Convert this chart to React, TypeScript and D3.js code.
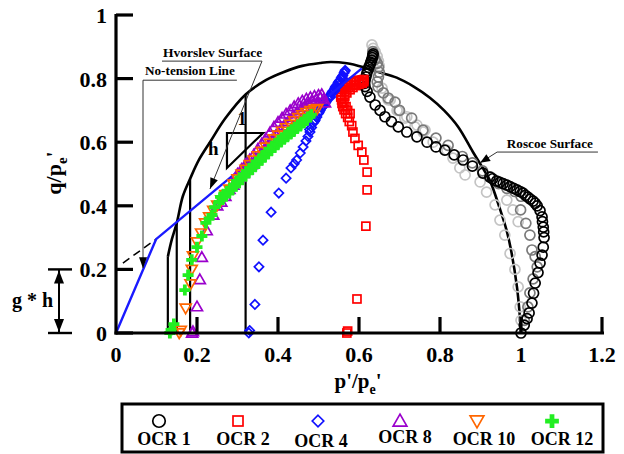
import React from "react";
import * as d3 from "d3";

type Pt = [number, number];

const xTicks = [0, 0.2, 0.4, 0.6, 0.8, 1, 1.2];
const xTickLabels = ["0", "0.2", "0.4", "0.6", "0.8", "1", "1.2"];
const yTicks = [0, 0.2, 0.4, 0.6, 0.8, 1];
const yTickLabels = ["0", "0.2", "0.4", "0.6", "0.8", "1"];

// state boundary surface (black curve)
const surface: Pt[] = [
  [0.128, 0.24], [0.138, 0.295], [0.15, 0.346], [0.165, 0.43], [0.183, 0.485],
  [0.205, 0.545], [0.232, 0.6], [0.27, 0.675], [0.32, 0.75], [0.37, 0.795],
  [0.413, 0.82], [0.46, 0.84], [0.504, 0.849], [0.53, 0.852], [0.57, 0.848],
  [0.61, 0.836], [0.65, 0.82], [0.693, 0.803], [0.735, 0.775], [0.775, 0.74],
  [0.81, 0.7], [0.845, 0.648], [0.881, 0.57], [0.905, 0.52], [0.923, 0.48],
  [0.948, 0.39], [0.965, 0.32], [0.977, 0.25], [0.99, 0.145], [0.996, 0.07], [1.0, 0],
];
const wallP = [0.128, 0.15, 0.183, 0.32];
const wallQ = [0.24, 0.346, 0.485, 0.75];

const hvorslevLine: Pt[] = [[0, 0], [0.099, 0.295], [0.607, 0.832]];
const dashedLine: Pt[] = [[0.017, 0.22], [0.099, 0.295]];

const ocr1: Pt[] = [
  [1.0, 0.0], [1.008, 0.025], [1.015, 0.045], [1.02, 0.063], [1.027, 0.094], [1.031, 0.125],
  [1.035, 0.157], [1.042, 0.19], [1.047, 0.22], [1.052, 0.245], [1.055, 0.27], [1.057, 0.3],
  [1.056, 0.318], [1.055, 0.333], [1.053, 0.35], [1.052, 0.365], [1.047, 0.385], [1.04, 0.4],
  [1.035, 0.408], [1.03, 0.415], [1.023, 0.421], [1.017, 0.427], [1.011, 0.433], [1.005, 0.44],
  [0.998, 0.445], [0.99, 0.45], [0.982, 0.455], [0.973, 0.46], [0.965, 0.465], [0.956, 0.47],
  [0.948, 0.474], [0.94, 0.478], [0.93, 0.485], [0.923, 0.49], [0.906, 0.503], [0.88, 0.525],
  [0.857, 0.544], [0.835, 0.56], [0.812, 0.575], [0.79, 0.585], [0.768, 0.6], [0.743, 0.617],
  [0.718, 0.632], [0.697, 0.648], [0.68, 0.665], [0.664, 0.68], [0.652, 0.7], [0.64, 0.717],
  [0.627, 0.742], [0.62, 0.76], [0.615, 0.775], [0.614, 0.785], [0.615, 0.795], [0.617, 0.805],
  [0.619, 0.815], [0.621, 0.825], [0.624, 0.835], [0.627, 0.843], [0.629, 0.851], [0.631, 0.858],
  [0.633, 0.866], [0.634, 0.872], [0.635, 0.878],
];
const ocr1Gray: Pt[] = [
  [1.008, 0.04], [1.017, 0.082], [1.022, 0.126], [1.03, 0.17], [1.04, 0.208], [1.035, 0.24],
  [1.027, 0.261], [1.022, 0.308], [1.012, 0.345], [0.999, 0.387], [1.0, 0.43], [0.985, 0.445],
  [0.965, 0.455], [0.945, 0.47], [0.925, 0.49], [0.905, 0.51], [0.88, 0.535], [0.855, 0.555],
  [0.82, 0.59], [0.79, 0.613], [0.758, 0.638], [0.73, 0.676], [0.7, 0.7], [0.689, 0.726],
  [0.672, 0.739], [0.66, 0.755], [0.647, 0.774], [0.645, 0.79], [0.648, 0.805], [0.65, 0.82],
  [0.648, 0.835], [0.645, 0.848], [0.64, 0.86], [0.636, 0.872], [0.634, 0.885],
];
const ocr1Light: Pt[] = [
  [1.0, 0.04], [0.998, 0.082], [0.993, 0.145], [0.985, 0.2], [0.973, 0.25], [0.96, 0.308],
  [0.948, 0.355], [0.936, 0.403], [0.915, 0.443], [0.899, 0.475], [0.862, 0.497], [0.849, 0.519],
  [0.832, 0.55], [0.817, 0.575], [0.783, 0.6], [0.763, 0.638], [0.738, 0.648], [0.713, 0.676],
  [0.697, 0.7], [0.677, 0.733], [0.965, 0.418], [0.98, 0.387], [0.993, 0.35], [0.672, 0.733],
  [0.694, 0.7], [0.718, 0.68], [0.743, 0.654], [0.758, 0.632], [0.657, 0.77], [0.65, 0.84],
  [0.648, 0.855], [0.645, 0.87], [0.64, 0.885], [0.635, 0.895], [0.632, 0.906],
];
const ocr2: Pt[] = [
  [0.57, 0.0], [0.572, 0.006], [0.595, 0.107], [0.617, 0.336], [0.62, 0.45], [0.62, 0.506],
  [0.612, 0.544], [0.607, 0.569], [0.598, 0.59], [0.59, 0.612], [0.585, 0.632], [0.582, 0.652],
  [0.576, 0.665], [0.572, 0.678], [0.567, 0.69], [0.563, 0.702], [0.56, 0.712], [0.558, 0.722],
  [0.557, 0.733], [0.555, 0.742], [0.555, 0.75], [0.556, 0.758], [0.558, 0.765], [0.562, 0.772],
  [0.567, 0.778], [0.573, 0.783], [0.58, 0.787], [0.587, 0.79], [0.594, 0.793], [0.601, 0.795],
  [0.608, 0.796], [0.612, 0.797], [0.565, 0.76], [0.575, 0.772], [0.59, 0.78], [0.605, 0.786],
  [0.563, 0.725], [0.568, 0.712], [0.572, 0.7], [0.578, 0.69], [0.565, 0.745], [0.57, 0.755],
  [0.578, 0.765], [0.585, 0.772], [0.592, 0.778], [0.6, 0.782], [0.608, 0.785], [0.612, 0.79],
];
const ocr4: Pt[] = [
  [0.328, 0.0], [0.33, 0.008], [0.343, 0.09], [0.353, 0.208], [0.363, 0.292], [0.383, 0.38],
  [0.402, 0.44], [0.42, 0.487], [0.432, 0.519], [0.44, 0.532], [0.446, 0.544], [0.455, 0.566],
  [0.462, 0.585], [0.469, 0.604], [0.474, 0.618], [0.479, 0.632], [0.483, 0.646], [0.487, 0.66],
  [0.492, 0.67], [0.496, 0.679], [0.5, 0.69], [0.504, 0.7], [0.508, 0.708], [0.512, 0.715],
  [0.516, 0.722], [0.52, 0.73], [0.524, 0.738], [0.528, 0.746], [0.532, 0.754], [0.536, 0.762],
  [0.54, 0.77], [0.544, 0.778], [0.548, 0.786], [0.552, 0.794], [0.556, 0.802], [0.56, 0.81],
  [0.563, 0.818], [0.566, 0.826], [0.502, 0.695], [0.51, 0.712], [0.518, 0.726], [0.526, 0.742],
  [0.534, 0.758], [0.542, 0.774], [0.55, 0.79], [0.558, 0.806], [0.565, 0.822], [0.53, 0.742],
  [0.54, 0.762], [0.55, 0.78], [0.56, 0.8], [0.478, 0.64], [0.49, 0.665],
];
const ocr8: Pt[] = [
  [0.188, 0.0], [0.19, 0.005], [0.2, 0.083], [0.207, 0.168], [0.212, 0.238], [0.224, 0.322],
  [0.24, 0.371], [0.25, 0.4], [0.26, 0.412], [0.27, 0.43], [0.28, 0.452], [0.29, 0.465],
  [0.3, 0.5], [0.31, 0.515], [0.32, 0.53], [0.33, 0.545], [0.34, 0.56], [0.35, 0.578],
  [0.36, 0.595], [0.37, 0.612], [0.38, 0.63], [0.39, 0.648], [0.4, 0.663], [0.41, 0.676],
  [0.42, 0.689], [0.43, 0.7], [0.44, 0.712], [0.45, 0.722], [0.46, 0.73], [0.47, 0.736],
  [0.48, 0.741], [0.49, 0.745], [0.5, 0.748], [0.508, 0.75],
  [0.305, 0.49], [0.315, 0.502], [0.325, 0.515], [0.335, 0.53], [0.345, 0.544], [0.355, 0.558],
  [0.365, 0.574], [0.375, 0.59], [0.385, 0.606], [0.395, 0.622], [0.405, 0.637], [0.415, 0.652],
  [0.425, 0.665], [0.435, 0.678], [0.445, 0.69], [0.455, 0.7], [0.465, 0.71], [0.475, 0.72],
  [0.485, 0.728], [0.495, 0.735], [0.505, 0.74], [0.513, 0.735], [0.516, 0.724],
];
const ocr10: Pt[] = [
  [0.156, 0.0], [0.16, 0.008], [0.172, 0.078], [0.184, 0.154], [0.187, 0.2], [0.19, 0.242],
  [0.2, 0.286], [0.21, 0.314], [0.22, 0.346], [0.23, 0.365], [0.24, 0.385], [0.25, 0.402],
  [0.26, 0.418], [0.27, 0.435], [0.28, 0.452], [0.29, 0.468], [0.3, 0.484], [0.31, 0.499],
  [0.32, 0.514], [0.33, 0.529], [0.34, 0.543], [0.35, 0.557], [0.36, 0.571], [0.37, 0.584],
  [0.38, 0.597], [0.39, 0.61], [0.4, 0.622], [0.41, 0.634], [0.42, 0.645], [0.43, 0.656],
  [0.44, 0.667], [0.45, 0.677], [0.46, 0.686], [0.47, 0.693], [0.48, 0.699], [0.49, 0.703],
  [0.497, 0.705],
];
const ocr12: Pt[] = [
  [0.133, 0.0], [0.136, 0.01], [0.143, 0.028], [0.17, 0.135], [0.178, 0.182], [0.187, 0.23],
  [0.2, 0.27], [0.212, 0.305], [0.222, 0.346], [0.23, 0.36], [0.237, 0.371], [0.244, 0.396],
  [0.255, 0.412], [0.258, 0.428], [0.263, 0.42], [0.266, 0.436], [0.271, 0.43], [0.274, 0.446],
  [0.279, 0.44], [0.282, 0.455], [0.287, 0.45], [0.29, 0.466], [0.295, 0.462], [0.298, 0.478],
  [0.303, 0.472], [0.306, 0.488], [0.311, 0.482], [0.314, 0.498], [0.319, 0.494], [0.322, 0.508],
  [0.327, 0.503], [0.33, 0.518], [0.335, 0.513], [0.338, 0.528], [0.343, 0.523], [0.346, 0.538],
  [0.351, 0.533], [0.354, 0.548], [0.359, 0.543], [0.362, 0.558], [0.367, 0.553], [0.37, 0.568],
  [0.375, 0.563], [0.378, 0.578], [0.383, 0.573], [0.386, 0.588], [0.391, 0.583], [0.394, 0.597],
  [0.399, 0.592], [0.402, 0.606], [0.407, 0.601], [0.41, 0.614], [0.415, 0.609], [0.418, 0.622],
  [0.423, 0.617], [0.426, 0.631], [0.431, 0.626], [0.434, 0.639], [0.439, 0.634], [0.442, 0.647],
  [0.447, 0.643], [0.45, 0.655], [0.455, 0.651], [0.458, 0.663], [0.463, 0.66], [0.466, 0.671],
  [0.471, 0.668], [0.474, 0.679], [0.479, 0.68], [0.482, 0.687],
];

const legendNames = ["OCR 1", "OCR 2", "OCR 4", "OCR 8", "OCR 10", "OCR 12"];
const legendKinds = ["circle", "square", "diamond", "triangle", "invtriangle", "plus"];
const legendColors = ["#000000", "#ff0000", "#1010ff", "#9a00cc", "#ff6600", "#22ee22"];

const W = 624;
const H = 454;
const FONT = "'Liberation Serif', 'Times New Roman', serif";

const x = d3.scaleLinear().domain([0, 1.2]).range([116, 602]);
const y = d3.scaleLinear().domain([0, 1]).range([333, 15]);

function Marker({ kind, cx, cy, color, s = 1 }: { kind: string; cx: number; cy: number; color: string; s?: number }) {
  const sw = 1.7;
  if (kind === "circle") return <circle cx={cx} cy={cy} r={5 * s} fill="none" stroke={color} strokeWidth={sw} />;
  if (kind === "square")
    return <rect x={cx - 4 * s} y={cy - 4 * s} width={8 * s} height={8 * s} fill="none" stroke={color} strokeWidth={sw} />;
  if (kind === "diamond") {
    const r = 4.6 * s;
    return <polygon points={`${cx},${cy - r} ${cx + r},${cy} ${cx},${cy + r} ${cx - r},${cy}`} fill="none" stroke={color} strokeWidth={sw} />;
  }
  if (kind === "triangle") {
    const r = 5.5 * s;
    return <polygon points={`${cx},${cy - r} ${cx + r},${cy + r * 0.75} ${cx - r},${cy + r * 0.75}`} fill="none" stroke={color} strokeWidth={sw} />;
  }
  if (kind === "invtriangle") {
    const r = 5.5 * s;
    return <polygon points={`${cx},${cy + r} ${cx + r},${cy - r * 0.75} ${cx - r},${cy - r * 0.75}`} fill="none" stroke={color} strokeWidth={sw} />;
  }
  const a = 5.5 * s;
  const b = 1.9 * s;
  return (
    <path
      d={`M${cx - b},${cy - a}H${cx + b}V${cy - b}H${cx + a}V${cy + b}H${cx + b}V${cy + a}H${cx - b}V${cy + b}H${cx - a}V${cy - b}H${cx - b}Z`}
      fill={color}
    />
  );
}

function arrowHead(x1: number, y1: number, x2: number, y2: number, len = 10, half = 3.5) {
  const dx = x2 - x1;
  const dy = y2 - y1;
  const l = Math.hypot(dx, dy);
  const ux = dx / l;
  const uy = dy / l;
  const bx = x2 - ux * len;
  const by = y2 - uy * len;
  return `${x2},${y2} ${bx - uy * half},${by + ux * half} ${bx + uy * half},${by - ux * half}`;
}

const Series = ({ data, kind, color }: { data: Pt[]; kind: string; color: string }) => (
  <g>
    {data.map((d, i) => (
      <Marker key={i} kind={kind} cx={x(d[0])} cy={y(d[1])} color={color} />
    ))}
  </g>
);

export default function App() {
  const line = d3.line<Pt>().x((d) => x(d[0])).y((d) => y(d[1]));
  const curve = d3.line<Pt>().x((d) => x(d[0])).y((d) => y(d[1])).curve(d3.curveCatmullRom);

  // annotation anchors (data units)
  const nt = { p: 0.0667, q1: 0.795, q2: 0.204, pEnd: 0.2985 };
  const hv = { p1: 0.1136, p2: 0.3605, q: 0.855, tp: 0.232, tq: 0.453 };
  const ro = { p1: 0.941, p2: 1.19, q: 0.569, tp: 0.899, tq: 0.535 };
  const tri: Pt[] = [[0.274, 0.629], [0.363, 0.629], [0.274, 0.519]];

  const gx = 59;
  const legX = [159, 238, 318, 400, 477, 552];
  const legLabelX = [164, 243, 321, 405, 484, 562];
  const legLabelY = [445, 445, 447, 443, 445, 445];

  return (
    <svg
      width={W}
      height={H}
      style={{ position: "absolute", left: 0, top: 0, background: "#fff" }}
      fontFamily={FONT}
      fontWeight="bold"
    >
      {/* surface lines */}
      <path d={curve(surface) || ""} fill="none" stroke="#000" strokeWidth={2.6} />
      {wallP.map((p, i) => (
        <line key={i} x1={x(p)} x2={x(p)} y1={y(0)} y2={y(wallQ[i])} stroke="#000" strokeWidth={2.2} />
      ))}
      <path d={line(dashedLine) || ""} fill="none" stroke="#000" strokeWidth={1.5} strokeDasharray="8,5" />

      {/* triangle h : 1 */}
      <polygon points={tri.map((d) => `${x(d[0])},${y(d[1])}`).join(" ")} fill="none" stroke="#000" strokeWidth={2.2} />
      <text x={x(0.24)} y={y(0.56)} fontSize={19} textAnchor="middle">h</text>
      <text x={x(0.311)} y={y(0.654)} fontSize={18} textAnchor="middle">1</text>

      {/* data */}
      <Series data={ocr1Light} kind="circle" color="#c4c4c4" />
      <Series data={ocr1Gray} kind="circle" color="#7a7a7a" />
      <Series data={ocr1} kind="circle" color="#000" />
      <Series data={ocr2} kind="square" color={legendColors[1]} />
      <Series data={ocr4} kind="diamond" color={legendColors[2]} />
      <path d={line(hvorslevLine) || ""} fill="none" stroke="#1a1aff" strokeWidth={2.4} />
      <Series data={ocr8} kind="triangle" color={legendColors[3]} />
      <Series data={ocr10} kind="invtriangle" color={legendColors[4]} />
      <Series data={ocr12} kind="plus" color={legendColors[5]} />

      {/* annotations */}
      <text x={x(0.0716)} y={y(0.811)} fontSize={13.2}>No-tension Line</text>
      <line x1={x(nt.p)} x2={x(nt.pEnd)} y1={y(nt.q1)} y2={y(nt.q1)} stroke="#333" strokeWidth={1} />
      <line x1={x(nt.p)} x2={x(nt.p)} y1={y(nt.q1)} y2={y(nt.q2)} stroke="#333" strokeWidth={1} />
      <polygon points={arrowHead(x(nt.p), y(nt.q1), x(nt.p), y(nt.q2), 11, 4)} fill="#000" />

      <text x={x(0.116)} y={y(0.868)} fontSize={13.5}>Hvorslev Surface</text>
      <line x1={x(hv.p1)} x2={x(hv.p2)} y1={y(hv.q)} y2={y(hv.q)} stroke="#333" strokeWidth={1} />
      <line x1={x(hv.p2)} x2={x(hv.tp)} y1={y(hv.q)} y2={y(hv.tq)} stroke="#333" strokeWidth={1} />
      <polygon points={arrowHead(x(hv.p2), y(hv.q), x(hv.tp), y(hv.tq), 11, 4)} fill="#000" />

      <text x={x(0.965)} y={y(0.582)} fontSize={13.2}>Roscoe Surface</text>
      <line x1={x(ro.p1)} x2={x(ro.p2)} y1={y(ro.q)} y2={y(ro.q)} stroke="#333" strokeWidth={1} />
      <line x1={x(ro.p1)} x2={x(ro.tp)} y1={y(ro.q)} y2={y(ro.tq)} stroke="#333" strokeWidth={1} />
      <polygon points={arrowHead(x(ro.p1), y(ro.q), x(ro.tp), y(ro.tq), 10, 4)} fill="#000" />

      {/* axes */}
      <line x1={x(0)} x2={x(0)} y1={y(0) + 1.5} y2={y(1) - 1} stroke="#000" strokeWidth={3.2} />
      <line x1={x(0) - 1.5} x2={x(1.2) + 2} y1={y(0)} y2={y(0)} stroke="#000" strokeWidth={3.2} />
      {yTicks.map((t, i) => (
        <g key={i}>
          <line x1={x(0)} x2={x(0) + 17} y1={y(t)} y2={y(t)} stroke="#000" strokeWidth={3.2} />
          <text x={x(0) - 9} y={y(t) + 8} fontSize={22} textAnchor="end">{yTickLabels[i]}</text>
        </g>
      ))}
      {xTicks.map((t, i) => (
        <g key={i}>
          {t > 0 && <line x1={x(t)} x2={x(t)} y1={y(0)} y2={y(0) - 16} stroke="#000" strokeWidth={3.2} />}
          <text x={x(t)} y={362} fontSize={22} textAnchor="middle">{xTickLabels[i]}</text>
        </g>
      ))}
      <text x={358} y={388} fontSize={21} textAnchor="middle">
        p'/p<tspan dy={6} fontSize={14}>e</tspan><tspan dy={-6}>'</tspan>
      </text>
      <text transform="translate(61,173) rotate(-90)" fontSize={22} textAnchor="middle">
        q/p<tspan dy={6} fontSize={15}>e</tspan><tspan dy={-6}>'</tspan>
      </text>

      {/* g * h */}
      <text x={12} y={307} fontSize={20}>g * h</text>
      <line x1={48} x2={72} y1={y(0.2)} y2={y(0.2)} stroke="#000" strokeWidth={2.4} />
      <line x1={48} x2={72} y1={y(0)} y2={y(0)} stroke="#000" strokeWidth={2.4} />
      <line x1={gx} x2={gx} y1={y(0.2)} y2={y(0)} stroke="#000" strokeWidth={2} />
      <polygon points={arrowHead(gx, y(0.1), gx, y(0.2) + 1, 13, 5)} fill="#000" />
      <polygon points={arrowHead(gx, y(0.1), gx, y(0) - 1, 13, 5)} fill="#000" />

      {/* legend */}
      <rect x={122} y={404} width={481} height={48} fill="#fff" stroke="#000" strokeWidth={3} />
      {legendNames.map((n, i) => (
        <g key={n}>
          <Marker kind={legendKinds[i]} cx={legX[i]} cy={421} color={legendColors[i]} s={1.25} />
          <text x={legLabelX[i]} y={legLabelY[i]} fontSize={18} textAnchor="middle">{n}</text>
        </g>
      ))}
    </svg>
  );
}
